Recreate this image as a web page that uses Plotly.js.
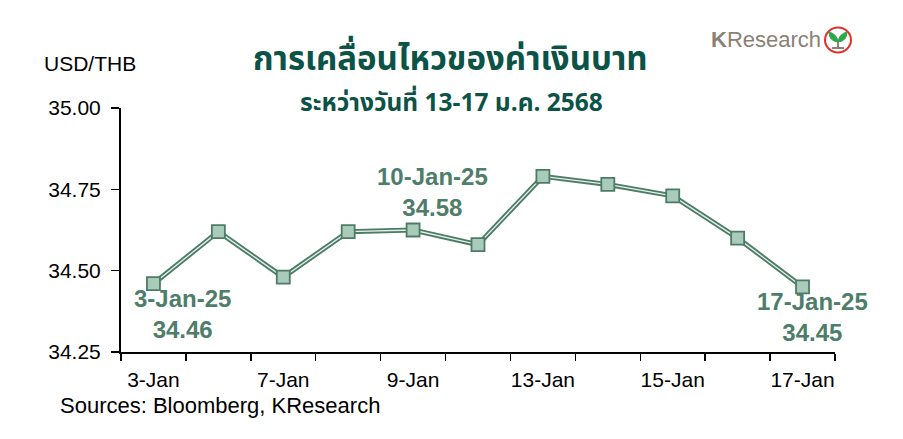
<!DOCTYPE html>
<html><head><meta charset="utf-8">
<script src="https://cdn.plot.ly/plotly-3.0.1.min.js"></script>
<style>html,body{margin:0;padding:0;background:#fff;}#c{width:903px;height:439px;}</style>
</head><body><div id="c"></div>
<script>
const dates = ["3-Jan","6-Jan","7-Jan","8-Jan","9-Jan","10-Jan","13-Jan","14-Jan","15-Jan","16-Jan","17-Jan"];
const usdthb = [34.46, 34.62, 34.48, 34.62, 34.625, 34.58, 34.79, 34.765, 34.73, 34.60, 34.45];
const tickLabels = ["3-Jan","","7-Jan","","9-Jan","","13-Jan","","15-Jan","","17-Jan"];
const labelPoints = [
  {date:"3-Jan", full:"3-Jan-25", value:34.46, pos:"below", dx:29},
  {date:"10-Jan", full:"10-Jan-25", value:34.58, pos:"above", dx:-46},
  {date:"17-Jan", full:"17-Jan-25", value:34.45, pos:"below", dx:10}
];
const titleText = "การเคลื่อนไหวของค่าเงินบาท";
const subtitleText = "ระหว่างวันที่ 13-17 ม.ค. 2568";

const lineCol = "#4d7c66";
const thai = "Noto Sans Thai, Noto Sans Thai UI, Tahoma, Noto Sans, DejaVu Sans, sans-serif";
const arial = "Arial, Liberation Sans, sans-serif";

const traces = [
  {x:dates, y:usdthb, type:"scatter", mode:"lines", line:{color:lineCol, width:5}, hoverinfo:"skip"},
  {x:dates, y:usdthb, type:"scatter", mode:"lines+markers", line:{color:"#e6f0ea", width:1.3},
   marker:{symbol:"square", size:13, color:"#a9cbba", line:{color:lineCol, width:1.8}}}
];

const annotations = labelPoints.map(p => ({
  x:p.date, y:p.value, xref:"x", yref:"y", showarrow:false,
  text:"<b>"+p.full+"<br>"+p.value.toFixed(2)+"</b>",
  font:{family:arial, size:24, color:"#4e7d6a"},
  xanchor:"center", yanchor: p.pos==="below" ? "top" : "bottom",
  xshift:p.dx, yshift: p.pos==="below" ? 1 : 22
}));

annotations.push(
  {xref:"paper", yref:"paper", x:(450-121)/714, y:(352-60)/244, xanchor:"center", yanchor:"middle", showarrow:false,
   text:"<b>"+titleText+"</b>", font:{family:thai, size:33, color:"#0b5347"}},
  {xref:"paper", yref:"paper", x:(451-121)/714, y:(352-103)/244, xanchor:"center", yanchor:"middle", showarrow:false,
   text:"<b>"+subtitleText+"</b>", font:{family:thai, size:24.5, color:"#0b5347"}},
  {xref:"paper", yref:"paper", x:(42-121)/714, y:(352-63)/244, xanchor:"left", yanchor:"middle", showarrow:false,
   text:"USD/THB", font:{family:arial, size:21, color:"#000"}},
  {xref:"paper", yref:"paper", x:(58-121)/714, y:(352-405)/244, xanchor:"left", yanchor:"middle", showarrow:false,
   text:"Sources: Bloomberg, KResearch", font:{family:arial, size:22, color:"#000"}},
  {xref:"paper", yref:"paper", x:(823-121)/714, y:(352-40)/244, xanchor:"right", yanchor:"middle", showarrow:false,
   text:"<b>K</b>Research", font:{family:arial, size:22, color:"#8a8175"}}
);

const lx = (838-121)/714, ly = (352-40)/244;
const shapes = [
  {type:"circle", xref:"paper", yref:"paper", xsizemode:"pixel", ysizemode:"pixel", xanchor:lx, yanchor:ly,
   x0:-13, x1:13, y0:-12.5, y1:12.5, line:{color:"#e0302a", width:2}, fillcolor:"rgba(0,0,0,0)"},
  {type:"path", xref:"paper", yref:"paper", xsizemode:"pixel", ysizemode:"pixel", xanchor:lx, yanchor:ly,
   path:"M0,-2 Q-9,-1 -9,8 Q-1,6 0,-2 Z", line:{color:"#2aa84a", width:1}, fillcolor:"#2aa84a"},
  {type:"path", xref:"paper", yref:"paper", xsizemode:"pixel", ysizemode:"pixel", xanchor:lx, yanchor:ly,
   path:"M0,-2 Q9,-1 9,8 Q1,6 0,-2 Z", line:{color:"#2aa84a", width:1}, fillcolor:"#2aa84a"},
  {type:"path", xref:"paper", yref:"paper", xsizemode:"pixel", ysizemode:"pixel", xanchor:lx, yanchor:ly,
   path:"M0,-2 L0,-8 M-6,-8 L6,-8", line:{color:"#8a8175", width:2}}
];

const layout = {
  width:903, height:439,
  margin:{l:121, r:68, t:108, b:87, pad:0},
  paper_bgcolor:"#fff", plot_bgcolor:"#fff",
  showlegend:false,
  xaxis:{type:"category", tickson:"boundaries", tickvals:dates, ticktext:tickLabels, tickangle:0,
    showline:true, linecolor:"#000", linewidth:2, ticks:"outside", ticklen:7, tickwidth:1.5, tickcolor:"#000",
    showgrid:false, zeroline:false, range:[-0.5,10.5], ticklabelstandoff:8,
    tickfont:{family:arial, size:21, color:"#000"}},
  yaxis:{range:[34.25,35.0], dtick:0.25, tick0:34.25, tickformat:".2f",
    showline:true, linecolor:"#000", linewidth:2, ticks:"outside", ticklen:8, tickwidth:1.5, tickcolor:"#000",
    showgrid:false, zeroline:false, ticklabelstandoff:6,
    tickfont:{family:arial, size:21, color:"#000"}},
  annotations:annotations, shapes:shapes
};

Plotly.newPlot("c", traces, layout, {staticPlot:true, displayModeBar:false});
</script></body></html>
